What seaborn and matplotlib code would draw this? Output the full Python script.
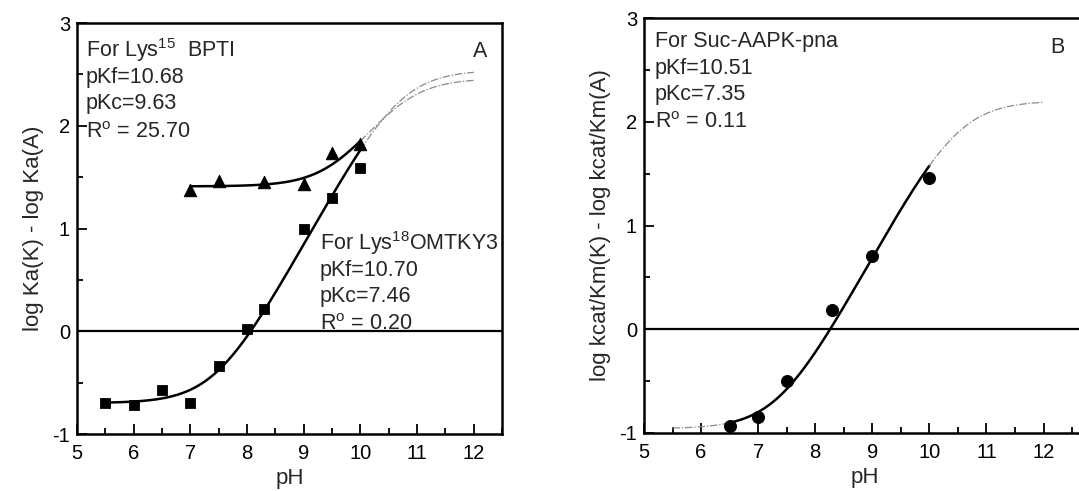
import numpy as np
import pandas as pd
import matplotlib
matplotlib.use("Agg")
import matplotlib.pyplot as plt
import seaborn as sns

# ---- data ----
ph_omtky3 = [5.5, 6.0, 6.5, 7.0, 7.5, 8.0, 8.3, 9.0, 9.5, 10.0]
y_omtky3 = [-0.70, -0.72, -0.57, -0.70, -0.34, 0.02, 0.22, 1.00, 1.30, 1.59]

ph_bpti = [7.0, 7.5, 8.3, 9.0, 9.5, 10.0]
y_bpti = [1.37, 1.46, 1.45, 1.43, 1.73, 1.82]

ph_suc = [6.5, 7.0, 7.5, 8.3, 9.0, 10.0]
y_suc = [-0.93, -0.85, -0.50, 0.19, 0.71, 1.46]

# fit parameters shown in the chart
fit_bpti = dict(pKf=10.68, pKc=9.63, R=25.70)
fit_omtky3 = dict(pKf=10.70, pKc=7.46, R=0.20)
fit_suc = dict(pKf=10.51, pKc=7.35, R=0.11)

x_ticks = [5, 6, 7, 8, 9, 10, 11, 12]
y_ticks = [-1, 0, 1, 2, 3]


def model(ph, pKf, pKc, R):
    ph = np.asarray(ph)
    return np.log10(R) + np.log10((1 + 10 ** (ph - pKc)) / (1 + 10 ** (ph - pKf)))


sns.set_theme(style="ticks")
plt.rcParams["font.family"] = ["Liberation Sans", "DejaVu Sans"]
plt.rcParams["mathtext.fontset"] = "custom"
plt.rcParams["mathtext.rm"] = "Liberation Sans"
plt.rcParams["mathtext.it"] = "Liberation Sans"
plt.rcParams["axes.unicode_minus"] = False

fig = plt.figure(figsize=(10.79, 4.91), dpi=100)
axA = fig.add_axes([77 / 1079, 57 / 491, 425 / 1079, 411 / 491])
axB = fig.add_axes([644 / 1079, 58 / 491, 441.75 / 1079, 415 / 491])

solid_kw = dict(color="black", linewidth=1.8)
ext_kw = dict(color="#8a8a8a", linewidth=0.9, dashes=(6, 1.5, 1, 1.5))


def draw_fit(ax, lo, hi, params, ext_lo=None, ext_hi=12.0):
    xs = np.linspace(lo, hi, 200)
    d = pd.DataFrame({"x": xs, "y": model(xs, **params)})
    sns.lineplot(data=d, x="x", y="y", ax=ax, **solid_kw)
    if ext_lo is not None:
        xe = np.linspace(ext_lo, lo, 60)
        de = pd.DataFrame({"x": xe, "y": model(xe, **params)})
        l = sns.lineplot(data=de, x="x", y="y", ax=ax, color=ext_kw["color"], linewidth=ext_kw["linewidth"])
        l.lines[-1].set_dashes(ext_kw["dashes"])
    xe = np.linspace(hi, ext_hi, 80)
    de = pd.DataFrame({"x": xe, "y": model(xe, **params)})
    l = sns.lineplot(data=de, x="x", y="y", ax=ax, color=ext_kw["color"], linewidth=ext_kw["linewidth"])
    l.lines[-1].set_dashes(ext_kw["dashes"])


def style_axes(ax, xmax):
    ax.set_xlim(5, xmax)
    ax.set_ylim(-1, 3)
    ax.set_xticks(x_ticks)
    ax.set_yticks(y_ticks)
    ax.set_xticks(np.arange(5.5, 12.6, 1.0), minor=True)
    ax.set_yticks([-0.5, 0.5, 1.5, 2.5], minor=True)
    ax.tick_params(which="both", direction="in", top=False, right=False,
                   width=1.3, colors="black", labelsize=14.5)
    ax.tick_params(which="major", length=7)
    ax.tick_params(which="minor", length=4)
    ax.tick_params(axis="x", pad=7)
    ax.tick_params(axis="y", pad=5)
    for s in ax.spines.values():
        s.set_visible(True)
        s.set_linewidth(1.8)
        s.set_color("black")
    ax.axhline(0, color="black", linewidth=1.6, zorder=1)
    ax.set_xlabel("pH", fontsize=16, labelpad=4)


# ---- Panel A ----
draw_fit(axA, 5.5, 10.0, fit_omtky3)
draw_fit(axA, 7.0, 10.0, fit_bpti)
sns.scatterplot(x=ph_omtky3, y=y_omtky3, ax=axA, marker="s", s=55, color="black",
                edgecolor="black", zorder=5)
sns.scatterplot(x=ph_bpti, y=y_bpti, ax=axA, marker="^", s=80, color="black",
                edgecolor="black", zorder=5)
style_axes(axA, 12.5)
axA.set_ylabel("log Ka(K) - log Ka(A)", fontsize=16, labelpad=6)

tfs = 15.5
axA.text(0.02, 0.918, r"For Lys$^{15}$  BPTI", transform=axA.transAxes, fontsize=tfs, va="baseline")
axA.text(0.02, 0.855, "pKf=10.68", transform=axA.transAxes, fontsize=tfs, va="baseline")
axA.text(0.02, 0.79, "pKc=9.63", transform=axA.transAxes, fontsize=tfs, va="baseline")
axA.text(0.02, 0.72, r"R$^{\rm o}$ = 25.70", transform=axA.transAxes, fontsize=tfs, va="baseline")
axA.text(0.571, 0.448, r"For Lys$^{18}$OMTKY3", transform=axA.transAxes, fontsize=tfs, va="baseline")
axA.text(0.571, 0.385, "pKf=10.70", transform=axA.transAxes, fontsize=tfs, va="baseline")
axA.text(0.571, 0.322, "pKc=7.46", transform=axA.transAxes, fontsize=tfs, va="baseline")
axA.text(0.571, 0.252, r"R$^{\rm o}$ = 0.20", transform=axA.transAxes, fontsize=tfs, va="baseline")
axA.text(0.965, 0.955, "A", transform=axA.transAxes, fontsize=tfs, ha="right", va="top")

# ---- Panel B ----
draw_fit(axB, 6.5, 10.0, fit_suc, ext_lo=5.5)
sns.scatterplot(x=ph_suc, y=y_suc, ax=axB, marker="o", s=75, color="black",
                edgecolor="black", zorder=5)
style_axes(axB, 12.74)
axB.set_ylabel("log kcat/Km(K) - log kcat/Km(A)", fontsize=16, labelpad=6)
axB.text(0.025, 0.93, "For Suc-AAPK-pna", transform=axB.transAxes, fontsize=tfs, va="baseline")
axB.text(0.025, 0.865, "pKf=10.51", transform=axB.transAxes, fontsize=tfs, va="baseline")
axB.text(0.025, 0.802, "pKc=7.35", transform=axB.transAxes, fontsize=tfs, va="baseline")
axB.text(0.025, 0.735, r"R$^{\rm o}$ = 0.11", transform=axB.transAxes, fontsize=tfs, va="baseline")
axB.text(0.92, 0.955, "B", transform=axB.transAxes, fontsize=tfs, ha="left", va="top")

fig.savefig("out.png", dpi=100)
